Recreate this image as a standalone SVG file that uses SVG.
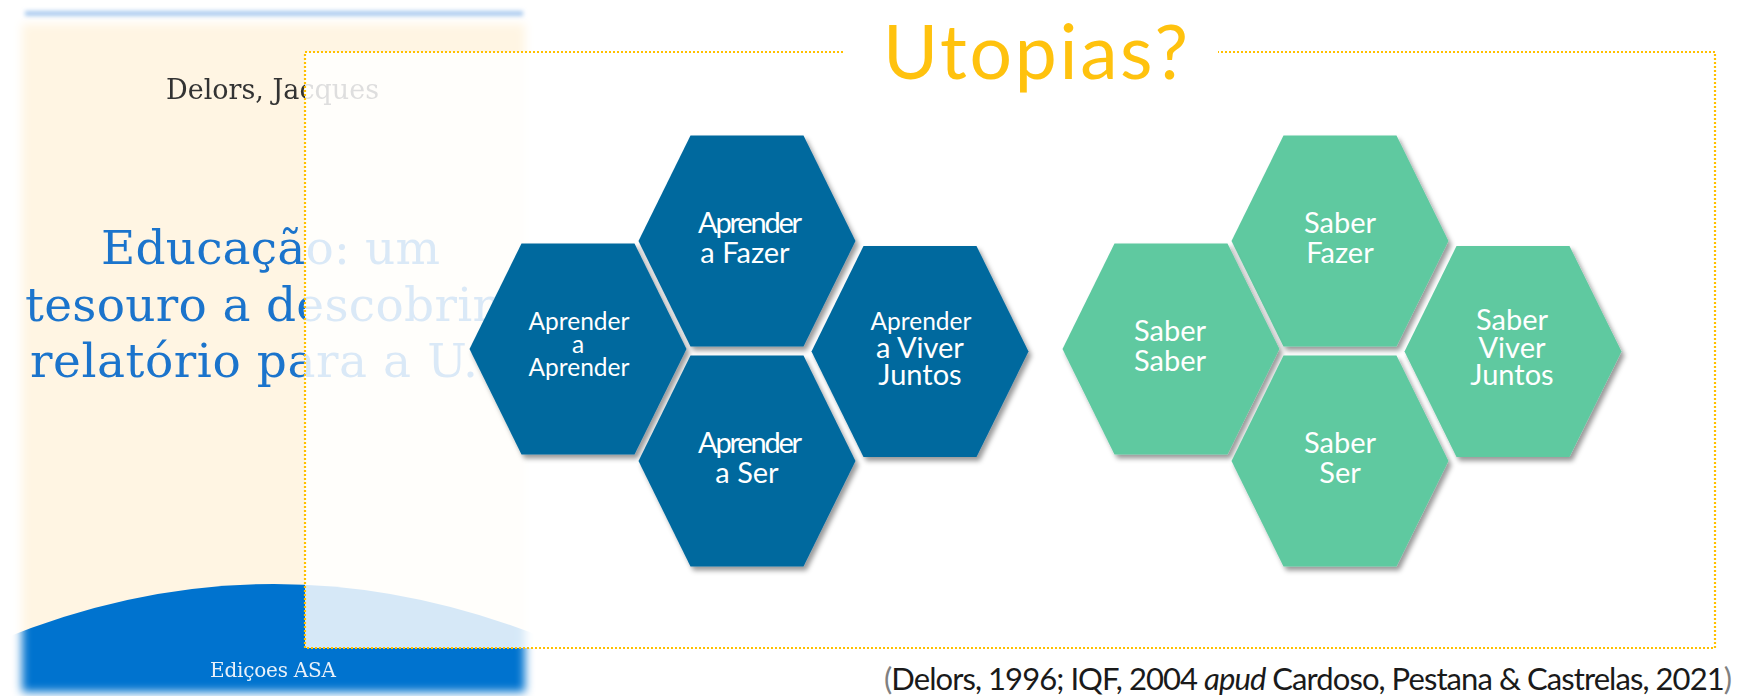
<svg xmlns="http://www.w3.org/2000/svg" width="1737" height="696" viewBox="0 0 1737 696">
<style>
  .cover-title { font-family: "DejaVu Serif", "Liberation Serif", serif; font-size: 47px; fill: #1B74CC; }
  .cover-author { font-family: "DejaVu Serif", "Liberation Serif", serif; font-size: 27px; fill: #333333; }
  .cover-pub { font-family: "DejaVu Serif", "Liberation Serif", serif; font-size: 20px; fill: #EAF1F9; }
  .hex-blue { fill: #05699E; filter: url(#shadow); }
  .hex-green { fill: #5FC9A0; filter: url(#shadow); }
  .lbl { font-family: Lato, "Open Sans", sans-serif; font-size: 29px; fill: #FFFFFF; text-anchor: middle; }
  .s { font-size: 24.5px; }
  .cond { letter-spacing: -2.2px; }
  .title { font-family: Lato, "Open Sans", sans-serif; font-size: 75px; fill: #FFC20E; }
  .cite { font-family: Lato, "Open Sans", sans-serif; font-size: 31px; fill: #1A1A1A; }
  .paren { fill: #808080; }
  .frame { fill: none; stroke: #FFC000; stroke-width: 2.2; stroke-dasharray: 2 2; }
</style>
<defs>
  <filter id="soft" x="-10%" y="-10%" width="120%" height="120%">
    <feGaussianBlur stdDeviation="5"/>
  </filter>
  <filter id="soft2" x="-10%" y="-200%" width="120%" height="500%">
    <feGaussianBlur stdDeviation="2"/>
  </filter>
  <filter id="shadow" x="-20%" y="-20%" width="140%" height="140%">
    <feDropShadow dx="3" dy="4" stdDeviation="2.5" flood-color="#000" flood-opacity="0.4"/>
  </filter>
  <mask id="coverMask" maskUnits="userSpaceOnUse" x="0" y="0" width="560" height="696">
    <rect x="22" y="24" width="503" height="668" fill="#fff" filter="url(#soft)"/>
  </mask>
  <polygon id="hex" points="-56.5,-105.5 56.5,-105.5 108.5,0 56.5,105.5 -56.5,105.5 -108.5,0"/>
</defs>

<rect x="0" y="0" width="1737" height="696" fill="#FFFFFF"/>

<g id="book-cover">
  <rect x="25" y="11" width="498" height="5" fill="#A8C9EE" filter="url(#soft2)"/>
  <g mask="url(#coverMask)">
    <rect x="0" y="0" width="560" height="696" fill="#FFF5E3"/>
    <path d="M0,696 L0,640 Q273,528 550,640 L550,696 Z" fill="#0073CF"/>
    <text class="cover-author" x="166" y="99" textLength="213">Delors, Jacques</text>
    <text class="cover-title" x="101" y="264" textLength="339">Educação: um</text>
    <text class="cover-title" x="25" y="321" textLength="470">tesouro a descobrir</text>
    <text class="cover-title" x="30" y="377" textLength="448">relatório para a U.</text>
    <text class="cover-pub" x="210" y="677" textLength="126">Ediçoes ASA</text>
  </g>
</g>

<g id="frame">
  <rect x="305" y="52" width="1410" height="596" fill="#FFFFFF" fill-opacity="0.84"/>
  <path class="frame" d="M843,52 H305 V648 H1715 V52 H1218"/>
</g>

<g id="title">
  <text class="title" x="883" y="79" textLength="305">Utopias?</text>
</g>

<g id="connectors"></g>

<g id="node-aprender-fazer">
  <use href="#hex" class="hex-blue" transform="translate(747,241)"/>
  <text class="lbl"><tspan class="cond" x="749" y="233">Aprender</tspan><tspan x="745" y="263">a Fazer</tspan></text>
</g>
<g id="node-aprender-aprender">
  <use href="#hex" class="hex-blue" transform="translate(578,349)"/>
  <text class="lbl s"><tspan x="579" y="330">Aprender</tspan><tspan x="578" y="353">a</tspan><tspan x="579" y="376">Aprender</tspan></text>
</g>
<g id="node-aprender-ser">
  <use href="#hex" class="hex-blue" transform="translate(747,461)"/>
  <text class="lbl"><tspan class="cond" x="749" y="453">Aprender</tspan><tspan x="747" y="483">a Ser</tspan></text>
</g>
<g id="node-aprender-viver">
  <use href="#hex" class="hex-blue" transform="translate(920,351.5)"/>
  <text class="lbl"><tspan class="s" x="921" y="330">Aprender</tspan><tspan x="920" y="358">a Viver</tspan><tspan x="920" y="385">Juntos</tspan></text>
</g>

<g id="node-saber-fazer">
  <use href="#hex" class="hex-green" transform="translate(1340,241)"/>
  <text class="lbl"><tspan x="1340" y="233">Saber</tspan><tspan x="1340" y="263">Fazer</tspan></text>
</g>
<g id="node-saber-saber">
  <use href="#hex" class="hex-green" transform="translate(1171,349)"/>
  <text class="lbl"><tspan x="1170" y="341">Saber</tspan><tspan x="1170" y="371">Saber</tspan></text>
</g>
<g id="node-saber-ser">
  <use href="#hex" class="hex-green" transform="translate(1340,461)"/>
  <text class="lbl"><tspan x="1340" y="453">Saber</tspan><tspan x="1340" y="483">Ser</tspan></text>
</g>
<g id="node-saber-viver">
  <use href="#hex" class="hex-green" transform="translate(1513,351.5)"/>
  <text class="lbl"><tspan x="1512" y="330">Saber</tspan><tspan x="1512" y="358">Viver</tspan><tspan x="1512" y="385">Juntos</tspan></text>
</g>

<g id="citation">
  <text class="cite" x="884" y="690" textLength="848"><tspan class="paren">(</tspan>Delors, 1996; IQF, 2004 <tspan font-style="italic">apud</tspan> Cardoso, Pestana &amp; Castrelas, 2021<tspan class="paren">)</tspan></text>
</g>
</svg>
